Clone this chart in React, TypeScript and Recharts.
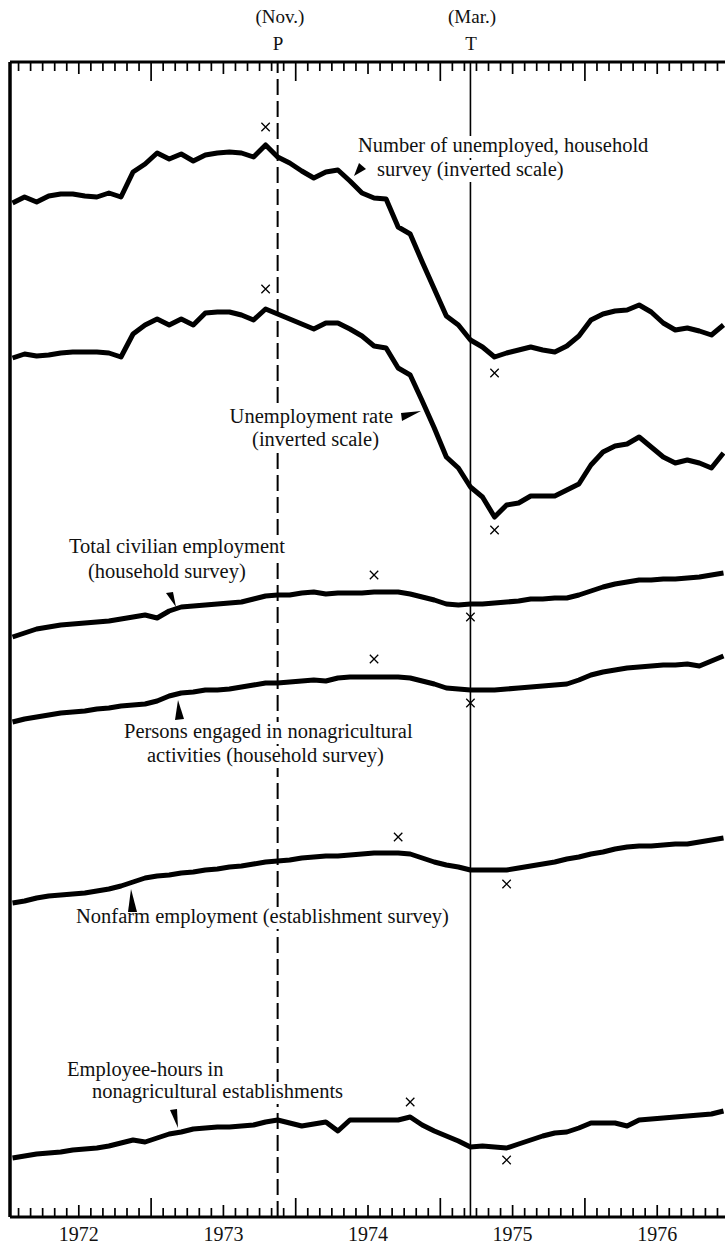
import React from "react";
import { LineChart, Line, XAxis, YAxis, ReferenceLine, ReferenceDot } from "recharts";

// ---- data (monthly, Jan 1972 .. Dec 1976) ----
const yearLabels = ["1972", "1973", "1974", "1975", "1976"];

// Number of unemployed, household survey (millions) - plotted on inverted scale
const unemployedMillions = [
  5.26, 5.14, 5.24, 5.12, 5.08, 5.08, 5.12, 5.14, 5.06, 5.14,
  4.64, 4.48, 4.26, 4.38, 4.28, 4.42, 4.30, 4.26, 4.24, 4.26,
  4.34, 4.10, 4.34, 4.46, 4.62, 4.76, 4.64, 4.60, 4.82, 5.06,
  5.16, 5.18, 5.74, 5.88, 6.44, 6.98, 7.52, 7.70, 8.00, 8.14,
  8.34, 8.26, 8.20, 8.14, 8.20, 8.24, 8.12, 7.92, 7.60, 7.48,
  7.42, 7.40, 7.30, 7.44, 7.66, 7.80, 7.76, 7.82, 7.90, 7.70,
];
// Unemployment rate (%) - inverted scale
const unemploymentRate = [
  5.58, 5.50, 5.54, 5.52, 5.48, 5.46, 5.46, 5.46, 5.48, 5.56,
  5.10, 4.92, 4.80, 4.92, 4.80, 4.92, 4.68, 4.66, 4.66, 4.72,
  4.82, 4.60, 4.70, 4.80, 4.90, 5.00, 4.88, 4.88, 5.00, 5.14,
  5.34, 5.38, 5.78, 5.92, 6.44, 6.98, 7.56, 7.78, 8.16, 8.36,
  8.76, 8.52, 8.48, 8.34, 8.34, 8.34, 8.22, 8.10, 7.72, 7.46,
  7.34, 7.30, 7.16, 7.36, 7.56, 7.68, 7.62, 7.68, 7.78, 7.48,
];
// Total civilian employment, household survey (millions)
const civilianEmployment = [
  82.0, 82.4, 82.8, 83.0, 83.2, 83.3, 83.4, 83.5, 83.6, 83.8,
  84.0, 84.2, 83.9, 84.6, 85.0, 85.1, 85.2, 85.3, 85.4, 85.5,
  85.8, 86.1, 86.2, 86.2, 86.4, 86.5, 86.3, 86.4, 86.4, 86.4,
  86.5, 86.5, 86.5, 86.3, 86.0, 85.7, 85.3, 85.2, 85.3, 85.3,
  85.4, 85.5, 85.6, 85.8, 85.8, 85.9, 85.9, 86.2, 86.6, 87.0,
  87.3, 87.5, 87.7, 87.7, 87.8, 87.8, 87.9, 88.0, 88.2, 88.4,
];
// Persons engaged in nonagricultural activities, household survey (millions)
const nonagPersons = [
  78.5, 78.8, 79.0, 79.2, 79.4, 79.5, 79.6, 79.8, 79.9, 80.1,
  80.2, 80.3, 80.6, 81.1, 81.4, 81.5, 81.7, 81.7, 81.8, 82.0,
  82.2, 82.4, 82.4, 82.5, 82.6, 82.7, 82.6, 82.9, 83.0, 83.0,
  83.0, 83.0, 83.0, 82.9, 82.6, 82.3, 81.9, 81.8, 81.7, 81.7,
  81.7, 81.8, 81.9, 82.0, 82.1, 82.2, 82.3, 82.7, 83.2, 83.5,
  83.7, 83.9, 84.0, 84.1, 84.2, 84.2, 84.3, 84.1, 84.6, 85.1,
];
// Nonfarm employment, establishment survey (millions)
const nonfarmEmployment = [
  73.5, 73.7, 74.0, 74.2, 74.3, 74.4, 74.5, 74.7, 74.9, 75.2,
  75.6, 76.0, 76.2, 76.3, 76.5, 76.6, 76.8, 76.9, 77.1, 77.2,
  77.4, 77.6, 77.7, 77.8, 78.0, 78.1, 78.2, 78.2, 78.3, 78.4,
  78.5, 78.5, 78.5, 78.4, 78.0, 77.6, 77.3, 77.1, 76.8, 76.8,
  76.8, 76.8, 77.0, 77.2, 77.4, 77.6, 77.9, 78.1, 78.4, 78.6,
  78.9, 79.1, 79.2, 79.2, 79.3, 79.4, 79.4, 79.6, 79.8, 80.0,
];
// Employee-hours in nonagricultural establishments (billions, annual rate)
const employeeHours = [
  140.6, 141.0, 141.4, 141.6, 141.8, 142.2, 142.4, 142.6, 143.0, 143.6,
  144.2, 143.8, 144.6, 145.4, 145.8, 146.4, 146.6, 146.8, 146.8, 147.0,
  147.2, 147.8, 148.2, 147.6, 147.0, 147.4, 147.8, 146.0, 148.2, 148.2,
  148.2, 148.2, 148.2, 148.8, 147.2, 146.0, 145.0, 144.0, 142.8, 143.0,
  142.8, 142.6, 143.4, 144.2, 145.0, 145.6, 145.8, 146.6, 147.6, 147.6,
  147.6, 147.0, 148.2, 148.4, 148.6, 148.8, 149.0, 149.2, 149.4, 150.0,
];

// specific peak / trough markers (month mid-points, series value)
const unemployedTurns = [{ t: 21.5, v: 3.74 }, { t: 40.5, v: 8.66 }];
const rateTurns = [{ t: 21.5, v: 4.2 }, { t: 40.5, v: 9.02 }];
const civilianTurns = [{ t: 30.5, v: 88.2 }, { t: 38.5, v: 84.0 }];
const nonagTurns = [{ t: 30.5, v: 84.8 }, { t: 38.5, v: 80.4 }];
const nonfarmTurns = [{ t: 32.5, v: 80.1 }, { t: 41.5, v: 75.4 }];
const hoursTurns = [{ t: 33.5, v: 151.8 }, { t: 41.5, v: 140.2 }];

// reference cycle turning points (months since Jan 1972)
const peakMonth = 22.5; // Nov. 1973
const troughMonth = 38.5; // Mar. 1975

const monthBoundaries = Array.from({ length: 60 }, (_, i) => i + 1);
const xDomain: [number, number] = [0.29, 60.04];

const data = unemployedMillions.map((u, i) => ({
  t: i + 0.5,
  u,
  r: unemploymentRate[i],
  c: civilianEmployment[i],
  p: nonagPersons[i],
  n: nonfarmEmployment[i],
  h: employeeHours[i],
}));

const FONT = "'Liberation Serif', 'Times New Roman', 'DejaVu Serif', serif";

const tickLen = (t: number) => (t % 12 === 0 ? 19 : t % 12 === 6 ? 12 : 9);

const BottomTick = (props: any) => {
  const { x, y, payload } = props;
  const t = payload.value;
  const label = t % 12 === 6 ? yearLabels[(t - 6) / 12] : null;
  return (
    <g>
      <line x1={x} x2={x} y1={y} y2={y - tickLen(t)} stroke="#000" strokeWidth={1.7} />
      {label && (
        <text x={x} y={y + 24} textAnchor="middle" fontFamily={FONT} fontSize={20} fill="#111">
          {label}
        </text>
      )}
    </g>
  );
};

const TopTick = (props: any) => {
  const { x, y, payload } = props;
  const t = payload.value;
  return <line x1={x} x2={x} y1={y} y2={y + tickLen(t)} stroke="#000" strokeWidth={1.7} />;
};

const Cross = (props: any) => {
  const { cx, cy } = props;
  const s = 4.2;
  return (
    <path
      d={`M${cx - s},${cy - s}L${cx + s},${cy + s}M${cx + s},${cy - s}L${cx - s},${cy + s}`}
      stroke="#000"
      strokeWidth={1.3}
      fill="none"
    />
  );
};

const labelLines = [
  { text: "Number of unemployed, household", x: 358, y: 152, w: 290, anchor: "start" },
  { text: "survey (inverted scale)", x: 377, y: 176, w: 187, anchor: "start" },
  { text: "Unemployment rate", x: 393, y: 423, w: 163, anchor: "end" },
  { text: "(inverted scale)", x: 379, y: 446, w: 127, anchor: "end" },
  { text: "Total civilian employment", x: 69, y: 553, w: 217, anchor: "start" },
  { text: "(household survey)", x: 88, y: 578, w: 158, anchor: "start" },
  { text: "Persons engaged in nonagricultural", x: 124, y: 738, w: 289, anchor: "start" },
  { text: "activities (household survey)", x: 147, y: 762, w: 237, anchor: "start" },
  { text: "Nonfarm employment (establishment survey)", x: 76, y: 923, w: 373, anchor: "start" },
  { text: "Employee-hours in", x: 67, y: 1076, w: 157, anchor: "start" },
  { text: "nonagricultural establishments", x: 92, y: 1098, w: 251, anchor: "start" },
];

const pointers = [
  "354,176 359,163 366,169",
  "401,413 421,411 402,421",
  "166,593 173,592 176,607",
  "178,700 175,720 184,719",
  "131,889 128,912 137,912",
  "170,1110 177,1109 178,1128",
];

const series = [
  { key: "u", domain: [2.44, 25.54], reversed: true, turns: unemployedTurns },
  { key: "r", domain: [-0.34, 22.76], reversed: true, turns: rateTurns },
  { key: "c", domain: [24.0, 139.5], reversed: false, turns: civilianTurns },
  { key: "p", domain: [29.0, 144.5], reversed: false, turns: nonagTurns },
  { key: "n", domain: [42.1, 157.6], reversed: false, turns: nonfarmTurns },
  { key: "h", domain: [128.8, 359.8], reversed: false, turns: hoursTurns },
];

export default function App() {
  return (
    <div
      style={{
        position: "absolute",
        left: 0,
        top: 0,
        width: 725,
        height: 1245,
        overflow: "hidden",
        background: "#fff",
      }}
    >
      <LineChart width={740} height={1245} data={data} margin={{ top: 0, right: 10, bottom: 0, left: 10 }}>
        <XAxis
          xAxisId="t"
          orientation="top"
          dataKey="t"
          type="number"
          domain={xDomain}
          allowDataOverflow
          ticks={monthBoundaries}
          interval={0}
          height={62}
          tickSize={0}
          tickMargin={0}
          tickLine={false}
          tick={<TopTick />}
          axisLine={{ stroke: "#000", strokeWidth: 3 }}
        />
        <XAxis
          xAxisId="b"
          orientation="bottom"
          dataKey="t"
          type="number"
          domain={xDomain}
          allowDataOverflow
          ticks={monthBoundaries}
          interval={0}
          height={28}
          tickSize={0}
          tickMargin={0}
          tickLine={false}
          tick={<BottomTick />}
          axisLine={{ stroke: "#000", strokeWidth: 3 }}
        />
        {series.map((s) => (
          <YAxis
            key={s.key}
            yAxisId={s.key}
            hide
            type="number"
            reversed={s.reversed}
            domain={s.domain as [number, number]}
            allowDataOverflow
          />
        ))}
        <ReferenceLine xAxisId="b" yAxisId="u" x={xDomain[0]} stroke="#000" strokeWidth={3.5} />
        <ReferenceLine xAxisId="b" yAxisId="u" x={peakMonth} stroke="#000" strokeWidth={2} strokeDasharray="16 6" />
        <ReferenceLine xAxisId="b" yAxisId="u" x={troughMonth} stroke="#000" strokeWidth={1.6} />
        {series.map((s) => (
          <Line
            key={s.key}
            type="linear"
            dataKey={s.key}
            xAxisId="b"
            yAxisId={s.key}
            stroke="#000"
            strokeWidth={5}
            strokeLinejoin="round"
            dot={false}
            activeDot={false}
            isAnimationActive={false}
          />
        ))}
        {series.map((s) =>
          s.turns.map((m, i) => (
            <ReferenceDot
              key={s.key + i}
              xAxisId="b"
              yAxisId={s.key}
              x={m.t}
              y={m.v}
              r={4}
              shape={<Cross />}
            />
          ))
        )}
      </LineChart>
      <svg
        width={725}
        height={1245}
        style={{ position: "absolute", left: 0, top: 0, pointerEvents: "none" }}
      >
        <g fontFamily={FONT} fontSize={19} fill="#111" textAnchor="middle">
          <text x={280} y={23}>(Nov.)</text>
          <text x={278} y={50}>P</text>
          <text x={472} y={23}>(Mar.)</text>
          <text x={471} y={50}>T</text>
        </g>
        {labelLines.map((l, i) => (
          <rect
            key={"r" + i}
            x={(l.anchor === "end" ? l.x - l.w : l.x) - 3}
            y={l.y - 16}
            width={l.w + 6}
            height={22}
            fill="#fff"
          />
        ))}
        {labelLines.map((l, i) => (
          <text
            key={"t" + i}
            x={l.x}
            y={l.y}
            textAnchor={l.anchor as any}
            fontFamily={FONT}
            fontSize={20.5}
            fill="#111"
          >
            {l.text}
          </text>
        ))}
        {pointers.map((p, i) => (
          <polygon key={"p" + i} points={p} fill="#000" />
        ))}
      </svg>
    </div>
  );
}
